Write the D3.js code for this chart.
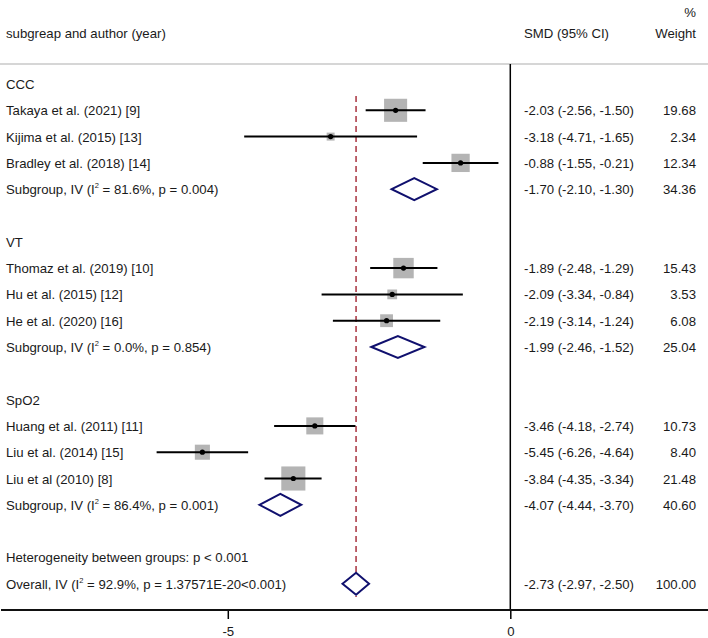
<!DOCTYPE html>
<html><head><meta charset="utf-8">
<script src="https://cdn.jsdelivr.net/npm/d3@7/dist/d3.min.js"></script>
<style>body{margin:0;background:#fff}svg{display:block}text{font-family:"Liberation Sans",Arial,sans-serif;font-size:13.2px;fill:#1a1a1a}</style>
</head><body><svg id="c" width="708" height="638"></svg>
<script>
// Row labels (top to bottom); "" marks a blank row
const labels = ["CCC","Takaya et al. (2021) [9]","Kijima et al. (2015) [13]","Bradley et al. (2018) [14]","SUB1","",
 "VT","Thomaz et al. (2019) [10]","Hu et al. (2015) [12]","He et al. (2020) [16]","SUB2","",
 "SpO2","Huang et al. (2011) [11]","Liu et al. (2014) [15]","Liu et al (2010) [8]","SUB3","",
 "Heterogeneity between groups: p < 0.001","OVERALL"];
const rowType = ["h","s","s","s","d","","h","s","s","s","d","","h","s","s","s","d","","h","o"];
const smd   = [null,-2.03,-3.18,-0.88,-1.70,null,null,-1.89,-2.09,-2.19,-1.99,null,null,-3.46,-5.45,-3.84,-4.07,null,null,-2.73];
const lower = [null,-2.56,-4.71,-1.55,-2.10,null,null,-2.48,-3.34,-3.14,-2.46,null,null,-4.18,-6.26,-4.35,-4.44,null,null,-2.97];
const upper = [null,-1.50,-1.65,-0.21,-1.30,null,null,-1.29,-0.84,-1.24,-1.52,null,null,-2.74,-4.64,-3.34,-3.70,null,null,-2.50];
const weight= [null,19.68,2.34,12.34,34.36,null,null,15.43,3.53,6.08,25.04,null,null,10.73,8.40,21.48,40.60,null,null,100.00];
const subI2 = {SUB1:["81.6%","0.004"],SUB2:["0.0%","0.854"],SUB3:["86.4%","0.001"],OVERALL:["92.9%","1.37571E-20<0.001"]};
const xTicks = [-5,0];
const overall = -2.73;

const svg = d3.select("#c");
const x = d3.scaleLinear().domain([-5,0]).range([227.8,510.3]);
const y = d3.scaleLinear().domain([0,19]).range([84,583.7]);
const fmt = v => v.toFixed(2);

// header
svg.append("text").attr("x",6).attr("y",38).text("subgreap and author (year)");
svg.append("text").attr("x",524).attr("y",38).text("SMD (95% CI)");
svg.append("text").attr("x",696).attr("y",38).attr("text-anchor","end").text("Weight");
svg.append("text").attr("x",696).attr("y",17).attr("text-anchor","end").text("%");
svg.append("line").attr("x1",0).attr("x2",708).attr("y1",64).attr("y2",64).attr("stroke","#c8c8c8").attr("stroke-width",1.5);

// zero line
svg.append("line").attr("x1",x(0)).attr("x2",x(0)).attr("y1",64).attr("y2",610).attr("stroke","#000").attr("stroke-width",1.5);
// overall dashed
svg.append("line").attr("x1",x(overall)).attr("x2",x(overall)).attr("y1",96).attr("y2",597).attr("stroke","#a8323e").attr("stroke-width",1.5).attr("stroke-dasharray","6,4");

// axis
const ax = svg.append("g").attr("transform","translate(0,610)").call(d3.axisBottom(x).tickValues(xTicks).tickSize(9).tickFormat(d => String(d)));
ax.select(".domain").remove();
ax.selectAll("line").attr("stroke","#000").attr("stroke-width",1.5);
ax.selectAll("text").attr("font-size",13.2).attr("font-family","Liberation Sans, Arial, sans-serif").attr("fill","#1a1a1a").attr("dy","1.05em");
svg.append("line").attr("x1",1).attr("x2",708).attr("y1",610).attr("y2",610).attr("stroke","#111").attr("stroke-width",1.8);

labels.forEach((lab,i)=>{
  const yy = y(i), t = rowType[i];
  if(t==="") return;
  if(t==="d"||t==="o"){
    const [i2,p] = subI2[lab];
    const tx = svg.append("text").attr("x",6).attr("y",yy+5);
    tx.append("tspan").text(t==="d"?"Subgroup, IV (I":"Overall, IV (I");
    tx.append("tspan").attr("dy",-6).attr("font-size",7.5).text("2");
    tx.append("tspan").attr("dy",6).text(" = "+i2+", p = "+p+")");
  } else {
    svg.append("text").attr("x",6).attr("y",yy+5).text(lab);
  }
  if(smd[i]==null) return;
  svg.append("text").attr("x",524).attr("y",yy+5).text(fmt(smd[i])+" ("+fmt(lower[i])+", "+fmt(upper[i])+")");
  svg.append("text").attr("x",696).attr("y",yy+5).attr("text-anchor","end").text(fmt(weight[i]));
  if(t==="s"){
    const s = 5.2*Math.sqrt(weight[i]);
    svg.append("rect").attr("x",x(smd[i])-s/2).attr("y",yy-s/2).attr("width",s).attr("height",s).attr("fill","#b4b4b4");
    svg.append("line").attr("x1",x(lower[i])).attr("x2",x(upper[i])).attr("y1",yy).attr("y2",yy).attr("stroke","#000").attr("stroke-width",2);
    svg.append("circle").attr("cx",x(smd[i])).attr("cy",yy).attr("r",2.6).attr("fill","#000");
  } else {
    const h = 11;
    const pts = [[x(lower[i]),yy],[x(smd[i]),yy-h],[x(upper[i]),yy],[x(smd[i]),yy+h]];
    svg.append("path").attr("d",d3.line()(pts)+"Z").attr("fill","#fff").attr("stroke","#10106e").attr("stroke-width",2);
  }
});
</script></body></html>
